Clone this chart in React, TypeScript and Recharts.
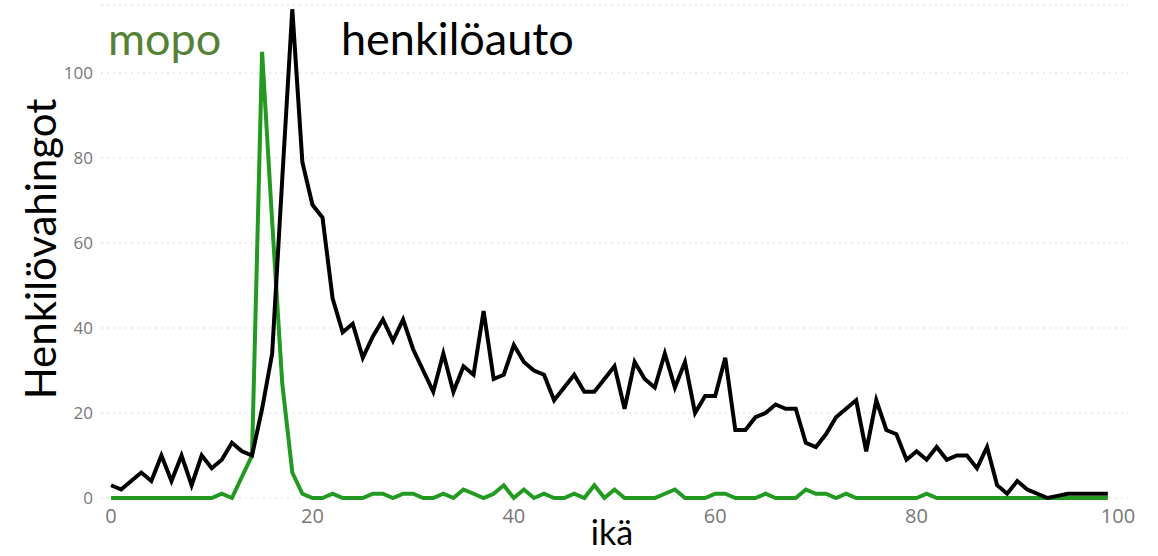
import { CartesianGrid, Line, LineChart, XAxis, YAxis } from "recharts";

// ikä 0..99
const ages: number[] = Array.from({ length: 100 }, (_, i) => i);

const henkiloauto: number[] = [
  3, 2, 4, 6, 4, 10, 4, 10, 3, 10,
  7, 9, 13, 11, 10, 21, 34, 75, 115, 79,
  69, 66, 47, 39, 41, 33, 38, 42, 37, 42,
  35, 30, 25, 34, 25, 31, 29, 44, 28, 29,
  36, 32, 30, 29, 23, 26, 29, 25, 25, 28,
  31, 21, 32, 28, 26, 34, 26, 32, 20, 24,
  24, 33, 16, 16, 19, 20, 22, 21, 21, 13,
  12, 15, 19, 21, 23, 11, 23, 16, 15, 9,
  11, 9, 12, 9, 10, 10, 7, 12, 3, 1,
  4, 2, 1, 0, 0.5, 1, 1, 1, 1, 1,
];

const mopo: number[] = [
  0, 0, 0, 0, 0, 0, 0, 0, 0, 0,
  0, 1, 0, 5, 10, 105, 65, 27, 6, 1,
  0, 0, 1, 0, 0, 0, 1, 1, 0, 1,
  1, 0, 0, 1, 0, 2, 1, 0, 1, 3,
  0, 2, 0, 1, 0, 0, 1, 0, 3, 0,
  2, 0, 0, 0, 0, 1, 2, 0, 0, 0,
  1, 1, 0, 0, 0, 1, 0, 0, 0, 2,
  1, 1, 0, 1, 0, 0, 0, 0, 0, 0,
  0, 1, 0, 0, 0, 0, 0, 0, 0, 0,
  0, 0, 0, 0, 0, 0, 0, 0, 0, 0,
];

const xTicks = [0, 20, 40, 60, 80, 100];
const yTicks = [0, 20, 40, 60, 80, 100];

const data = ages.map((ika, i) => ({ ika, auto: henkiloauto[i], mopo: mopo[i] }));

const calibriLike = "Lato, 'Liberation Sans', sans-serif";

export default function App() {
  return (
    <div style={{ position: "absolute", left: 0, top: 0, width: 1158, height: 556, background: "#fff" }}>
      <LineChart width={1158} height={556} data={data} margin={{ top: 5, right: 30, bottom: 0, left: 0 }}>
        <CartesianGrid stroke="#d9d9d9" strokeDasharray="2 4" vertical={false} />
        <XAxis
          dataKey="ika"
          type="number"
          domain={[-1, 101]}
          ticks={xTicks}
          axisLine={false}
          tickLine={false}
          tickSize={0}
          tickMargin={11}
          height={58}
          tick={{ fill: "#777", fontSize: 20, fontFamily: "'Open Sans', sans-serif" }}
        />
        <YAxis
          type="number"
          domain={[0, 116]}
          ticks={yTicks}
          axisLine={false}
          tickLine={false}
          tickSize={0}
          tickMargin={8}
          width={101}
          tick={{ fill: "#777", fontSize: 17, fontFamily: "'Open Sans', sans-serif" }}
        />
        <Line
          type="linear"
          dataKey="mopo"
          stroke="#229a22"
          strokeWidth={4}
          dot={false}
          activeDot={false}
          isAnimationActive={false}
        />
        <Line
          type="linear"
          dataKey="auto"
          stroke="#000"
          strokeWidth={4}
          dot={false}
          activeDot={false}
          isAnimationActive={false}
        />
      </LineChart>
      <div style={{ position: "absolute", left: 108, top: 16, fontFamily: calibriLike, fontSize: 45, lineHeight: 1, color: "#548235" }}>
        mopo
      </div>
      <div style={{ position: "absolute", left: 341, top: 16, fontFamily: calibriLike, fontSize: 45, lineHeight: 1, color: "#000" }}>
        henkilöauto
      </div>
      <div
        style={{
          position: "absolute",
          left: 40,
          top: 249,
          transform: "translate(-50%, -50%) rotate(-90deg)",
          fontFamily: calibriLike,
          fontSize: 42,
          lineHeight: 1,
          whiteSpace: "nowrap",
          color: "#000",
        }}
      >
        Henkilövahingot
      </div>
      <div
        style={{
          position: "absolute",
          left: 612,
          top: 532,
          transform: "translate(-50%, -50%)",
          fontFamily: calibriLike,
          fontSize: 34,
          lineHeight: 1,
          color: "#000",
        }}
      >
        ikä
      </div>
    </div>
  );
}
